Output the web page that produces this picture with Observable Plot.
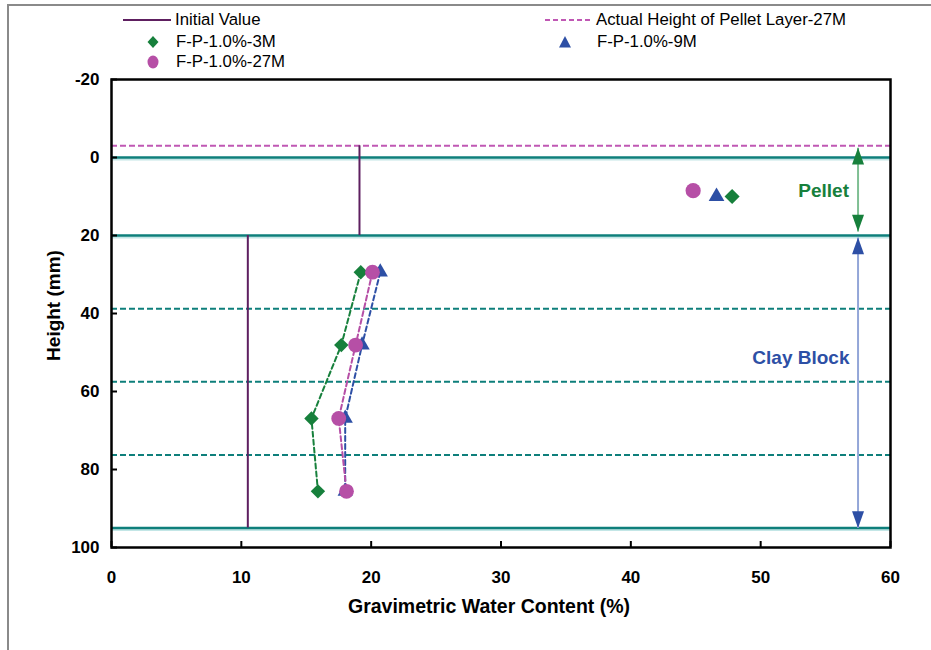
<!DOCTYPE html>
<html>
<head>
<meta charset="utf-8">
<script src="https://cdn.jsdelivr.net/npm/d3@7"></script>
<script src="https://cdn.jsdelivr.net/npm/@observablehq/plot@0.6"></script>
<style>
  html, body { margin: 0; padding: 0; background: #fff; }
  #page { position: relative; width: 931px; height: 650px; overflow: hidden; font-family: "Liberation Sans", Arial, sans-serif; }
  #edge { position: absolute; left: 7px; top: 4px; width: 940px; height: 660px; border-left: 2px solid #8a8a8a; border-top: 2px solid #8a8a8a; pointer-events: none; }
  #legend { position: relative; height: 60px; font-size: 16.8px; color: #000; z-index: 1; }
  .item { position: absolute; display: flex; align-items: center; height: 20px; white-space: nowrap; }
  .item svg { display: block; }
  #chart svg { display: block; }
</style>
</head>
<body>
<div id="page">
  <div id="legend"></div>
  <div id="chart"></div>
  <div id="edge"></div>
</div>
<script>
// Axis ticks
const xTicks = [0, 10, 20, 30, 40, 50, 60];
const yTicks = [-20, 0, 20, 40, 60, 80, 100];

// Layer geometry (mm)
const solidBoundaries = [0, 20, 95];
const dashedBoundaries = [38.75, 57.5, 76.25];
const pelletTop27M = [-3];

// Initial water content of pellet and clay block
const initialWc = [19.1, 10.5];
const initialTop = [-3, 20];
const initialBottom = [20, 95];

// Clay block sampling heights (mm)
const clayHeights = [29.4, 48.1, 66.9, 85.6];

// Measured water content (%)
const wc3M = [19.2, 17.7, 15.4, 15.9];
const wc9M = [20.7, 19.3, 18.0, 18.0];
const wc27M = [20.1, 18.8, 17.5, 18.1];

// Pellet layer measurements
const pelletWc = [47.8, 46.6, 44.8];
const pelletHeight = [10, 10, 8.5];

// Zone annotations
const zoneNames = ["Pellet", "Clay Block"];
const zoneX = [54.85, 53.1];
const zoneY = [8.6, 51.4];
const arrowX = [57.5, 57.5];
const arrowTop = [-2.5, 20.5];
const arrowBottom = [19, 95];

const colors = {
  teal: "#0e7f7b",
  tealHalo: "#c3e6e6",
  purple: "#5e1f60",
  pink: "#c058b4",
  green: "#17803c",
  greenLight: "#7fbf93",
  magenta: "#b64fa6",
  blue: "#2d4fa5",
  blueLight: "#93a6d8"
};

const initialRows = initialWc.map((wc, i) => ({wc, top: initialTop[i], bottom: initialBottom[i]}));
const toRows = (wcs, name) => wcs.map((wc, i) => ({wc, h: clayHeights[i], name}));
const rows3M = toRows(wc3M, "F-P-1.0%-3M");
const rows9M = toRows(wc9M, "F-P-1.0%-9M");
const rows27M = toRows(wc27M, "F-P-1.0%-27M");
const pelletRows = pelletWc.map((wc, i) => ({wc, h: pelletHeight[i]}));
const zoneRows = zoneNames.map((name, i) => ({name, x: zoneX[i], y: zoneY[i]}));
const arrowRows = arrowX.map((x, i) => ({x, top: arrowTop[i], bottom: arrowBottom[i]}));

// Narrow filled arrowheads, tip at the anchor point
const headUp = {draw(ctx, size) { const r = Math.sqrt(size / Math.PI); ctx.moveTo(0, 0); ctx.lineTo(-0.75 * r, 2.1 * r); ctx.lineTo(0.75 * r, 2.1 * r); ctx.closePath(); }};
const headDown = {draw(ctx, size) { const r = Math.sqrt(size / Math.PI); ctx.moveTo(0, 0); ctx.lineTo(-0.75 * r, -2.1 * r); ctx.lineTo(0.75 * r, -2.1 * r); ctx.closePath(); }};

const arrowColor = ["green", "blue"];
const arrowLight = ["greenLight", "blueLight"];

const chart = Plot.plot({
  width: 931,
  height: 590,
  marginTop: 19,
  marginBottom: 103,
  marginLeft: 111,
  marginRight: 41,
  style: {fontFamily: "'Liberation Sans', Arial, sans-serif", background: "transparent", color: "#000", overflow: "visible"},
  x: {domain: [0, 60]},
  y: {domain: [-20, 100], reverse: true},
  marks: [
    // layer boundaries
    Plot.ruleY(solidBoundaries, {stroke: colors.tealHalo, strokeWidth: 2, dy: 2}),
    Plot.ruleY(solidBoundaries, {stroke: colors.teal, strokeWidth: 2.5}),
    Plot.ruleY(dashedBoundaries, {stroke: colors.teal, strokeWidth: 2, strokeDasharray: "6,3"}),
    Plot.ruleY(pelletTop27M, {stroke: colors.pink, strokeWidth: 2, strokeDasharray: "6,3"}),
    // initial value
    Plot.ruleX(initialRows, {x: "wc", y1: "top", y2: "bottom", stroke: colors.purple, strokeWidth: 2}),
    // zone arrows
    Plot.link(arrowRows, {x1: "x", x2: "x", y1: "top", y2: "bottom", stroke: (d, i) => colors[arrowLight[i]], strokeWidth: 2}),
    Plot.dot(arrowRows, {x: "x", y: "top", symbol: headUp, r: 8, fill: (d, i) => colors[arrowColor[i]], stroke: null}),
    Plot.dot(arrowRows, {x: "x", y: "bottom", symbol: headDown, r: 8, fill: (d, i) => colors[arrowColor[i]], stroke: null}),
    Plot.text(zoneRows, {x: "x", y: "y", text: "name", fill: (d, i) => colors[arrowColor[i]], fontSize: 19, fontWeight: "bold"}),
    // profiles
    Plot.line(rows3M, {x: "wc", y: "h", stroke: colors.green, strokeWidth: 2, strokeDasharray: "5,3"}),
    Plot.line(rows9M, {x: "wc", y: "h", stroke: colors.blue, strokeWidth: 2, strokeDasharray: "5,3"}),
    Plot.line(rows27M, {x: "wc", y: "h", stroke: colors.magenta, strokeWidth: 2, strokeDasharray: "5,3"}),
    Plot.dot(rows3M, {x: "wc", y: "h", symbol: "diamond2", r: 6.5, fill: colors.green, stroke: null}),
    Plot.dot(rows9M, {x: "wc", y: "h", symbol: "triangle2", r: 7.3, fill: colors.blue, stroke: null}),
    Plot.dot(rows27M, {x: "wc", y: "h", symbol: "circle", r: 7.4, fill: colors.magenta, stroke: null}),
    // pellet layer points
    Plot.dot([pelletRows[0]], {x: "wc", y: "h", symbol: "diamond2", r: 6.8, fill: colors.green, stroke: null}),
    Plot.dot([pelletRows[1]], {x: "wc", y: "h", symbol: "triangle2", r: 7.5, fill: colors.blue, stroke: null}),
    Plot.dot([pelletRows[2]], {x: "wc", y: "h", symbol: "circle", r: 7.6, fill: colors.magenta, stroke: null}),
    // axes
    Plot.axisX({ticks: xTicks, tickSize: 0, tickPadding: 23, fontSize: 17, fontWeight: "bold", tickFormat: d => String(d), label: null}),
    Plot.axisX({ticks: xTicks, tickSize: -6, strokeWidth: 2, tickFormat: () => "", label: null}),
    Plot.axisY({ticks: yTicks, tickSize: 0, tickPadding: 12, fontSize: 17, fontWeight: "bold", tickFormat: d => String(d), label: null}),
    Plot.axisY({ticks: yTicks, tickSize: -6, strokeWidth: 2, tickFormat: () => "", label: null}),
    Plot.text(["Gravimetric Water Content (%)"], {frameAnchor: "bottom", dx: -12, dy: 65, fontSize: 19.5, fontWeight: "bold"}),
    Plot.text(["Height (mm)"], {frameAnchor: "left", textAnchor: "middle", rotate: -90, dx: -58, dy: -8, fontSize: 19, fontWeight: "bold"}),
    Plot.frame({stroke: "#000", strokeWidth: 2.5})
  ]
});
document.getElementById("chart").append(chart);

// Legend
const legend = document.getElementById("legend");
const legendItems = [
  {label: "Initial Value", left: 123, top: 10, swatch: `<svg width="48" height="10"><line x1="0" y1="5" x2="48" y2="5" stroke="${colors.purple}" stroke-width="2"/></svg>`, gap: 4},
  {label: "Actual Height of Pellet Layer-27M", left: 545, top: 10, swatch: `<svg width="46" height="10"><line x1="0" y1="5" x2="46" y2="5" stroke="${colors.pink}" stroke-width="2" stroke-dasharray="5,3"/></svg>`, gap: 5},
  {label: "F-P-1.0%-3M", left: 123, top: 32, swatch: `<svg width="48" height="14"><path d="M30,1L35.5,7L30,13L24.5,7Z" fill="${colors.green}"/></svg>`, gap: 5},
  {label: "F-P-1.0%-9M", left: 545, top: 32, swatch: `<svg width="46" height="14"><path d="M20,1L26,12.5L14,12.5Z" fill="${colors.blue}"/></svg>`, gap: 6},
  {label: "F-P-1.0%-27M", left: 123, top: 52, swatch: `<svg width="48" height="14"><ellipse cx="30" cy="7" rx="5.5" ry="6.5" fill="${colors.magenta}"/></svg>`, gap: 5}
];
for (const it of legendItems) {
  const div = document.createElement("div");
  div.className = "item";
  div.style.left = it.left + "px";
  div.style.top = it.top + "px";
  div.innerHTML = it.swatch + `<span style="margin-left:${it.gap}px">${it.label}</span>`;
  legend.append(div);
}
</script>
</body>
</html>
